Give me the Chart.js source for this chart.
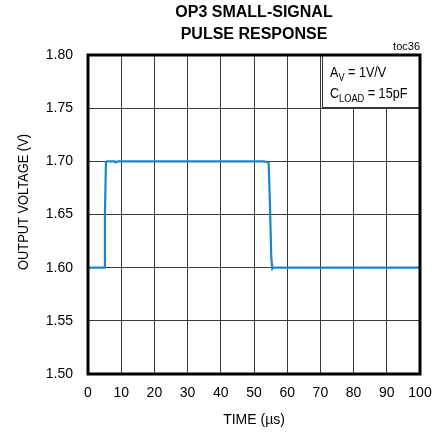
<!DOCTYPE html>
<html>
<head>
<meta charset="utf-8">
<script src="https://cdn.jsdelivr.net/npm/chart.js@4.4.1/dist/chart.umd.min.js"></script>
<style>
html,body{margin:0;padding:0;background:#fff;}
#wrap{width:444px;height:433px;position:relative;}
</style>
</head>
<body>
<div id="wrap"><canvas id="c" width="444" height="433"></canvas></div>
<script>
const titleLines = ["OP3 SMALL-SIGNAL", "PULSE RESPONSE"];
const figId = "toc36";
const xTitle = "TIME (µs)";
const yTitle = "OUTPUT VOLTAGE (V)";
const xTicks = [0,10,20,30,40,50,60,70,80,90,100];
const yTicks = [1.50,1.55,1.60,1.65,1.70,1.75,1.80];
const timeUs = [0, 2, 4, 4.9, 5.1, 5.4, 5.7, 6.5, 8, 8.3, 9, 10, 15, 20, 25, 30, 35, 40, 45, 50, 53, 54.4, 54.8, 55.2, 55.5, 55.8, 57, 60, 65, 70, 75, 80, 85, 90, 95, 100];
const voltage = [1.600, 1.600, 1.600, 1.600, 1.650, 1.699, 1.700, 1.700, 1.700, 1.699, 1.700, 1.700, 1.700, 1.700, 1.700, 1.700, 1.700, 1.700, 1.700, 1.700, 1.700, 1.699, 1.660, 1.610, 1.599, 1.600, 1.600, 1.600, 1.600, 1.600, 1.600, 1.600, 1.600, 1.600, 1.600, 1.600];
const noteLines = [["A","V"," = 1V/V"],["C","LOAD"," = 15pF"]];

const pts = timeUs.map((t,i)=>({x:t,y:voltage[i]}));
const FONT = "'Liberation Sans', Arial, sans-serif";

const decor = {
  id:'decor',
  afterDraw(chart){
    const ctx = chart.ctx, a = chart.chartArea;
    ctx.save();
    // title
    ctx.fillStyle = '#000';
    ctx.font = "bold 16px " + FONT;
    ctx.textAlign = 'center'; ctx.textBaseline = 'middle';
    const cx = (a.left + a.right)/2;
    ctx.fillText(titleLines[0], cx, 13);
    ctx.fillText(titleLines[1], cx, 35);
    ctx.font = "11px " + FONT;
    ctx.textAlign = 'right';
    ctx.fillText(figId, a.right, 47);
    // y title (condensed)
    ctx.save();
    ctx.translate(24, 202);
    ctx.rotate(-Math.PI/2);
    ctx.font = "14px " + FONT;
    ctx.textAlign = 'center'; ctx.textBaseline = 'middle';
    const yw = ctx.measureText(yTitle).width;
    ctx.scale(136/yw, 1);
    ctx.fillText(yTitle, 0, 0);
    ctx.restore();
    // note box
    const bx = 322, by = a.top, bw = a.right - 322, bh = 52;
    ctx.fillStyle = '#fff';
    ctx.fillRect(bx, by, bw, bh);
    ctx.strokeStyle = '#333'; ctx.lineWidth = 1;
    ctx.strokeRect(bx+0.5, by+0.5, bw-1, bh);
    ctx.fillStyle = '#000';
    ctx.textAlign = 'left'; ctx.textBaseline = 'alphabetic';
    const ys = [by+22, by+43];
    const sx = 0.84;
    noteLines.forEach((ln,i)=>{
      ctx.save();
      ctx.translate(bx + 8, ys[i]);
      ctx.scale(sx, 1);
      let x = 0;
      ctx.font = "15px " + FONT;
      ctx.fillText(ln[0], x, 0); x += ctx.measureText(ln[0]).width;
      ctx.font = "11px " + FONT;
      ctx.fillText(ln[1], x, 4); x += ctx.measureText(ln[1]).width;
      ctx.font = "15px " + FONT;
      ctx.fillText(ln[2], x, 0);
      ctx.restore();
    });
    // frame
    ctx.strokeStyle = '#000'; ctx.lineWidth = 3;
    ctx.strokeRect(a.left, a.top, a.right-a.left, a.bottom-a.top);
    ctx.restore();
  }
};

new Chart(document.getElementById('c'), {
  type:'scatter',
  data:{datasets:[{data:pts, showLine:true, borderColor:'#1b87c9', borderWidth:2.2, pointRadius:0, tension:0, fill:false}]},
  options:{
    responsive:false, animation:false,
    layout:{padding:{top:55, right:24, left:0, bottom:0}},
    plugins:{legend:{display:false}, tooltip:{enabled:false}, title:{display:false}},
    scales:{
      x:{type:'linear', min:0, max:100,
        afterBuildTicks(s){ s.ticks = xTicks.map(v=>({value:v})); },
        afterFit(s){ s.height = 59; },
        grid:{color:'#3a3a3a', lineWidth:1, drawTicks:false},
        border:{display:false},
        ticks:{color:'#000', font:{family:FONT, size:14}, padding:11, maxRotation:0, callback:v=>String(v)},
        title:{display:true, text:xTitle, color:'#000', font:{family:FONT, size:14}, padding:{top:8}}
      },
      y:{type:'linear', min:1.5, max:1.8,
        afterBuildTicks(s){ s.ticks = yTicks.map(v=>({value:v})); },
        afterFit(s){ s.width = 88; },
        grid:{color:'#3a3a3a', lineWidth:1, drawTicks:false},
        border:{display:false},
        ticks:{color:'#000', font:{family:FONT, size:14}, padding:15, callback:v=>Number(v).toFixed(2)},
        title:{display:false}
      }
    }
  },
  plugins:[decor]
});
</script>
</body>
</html>
